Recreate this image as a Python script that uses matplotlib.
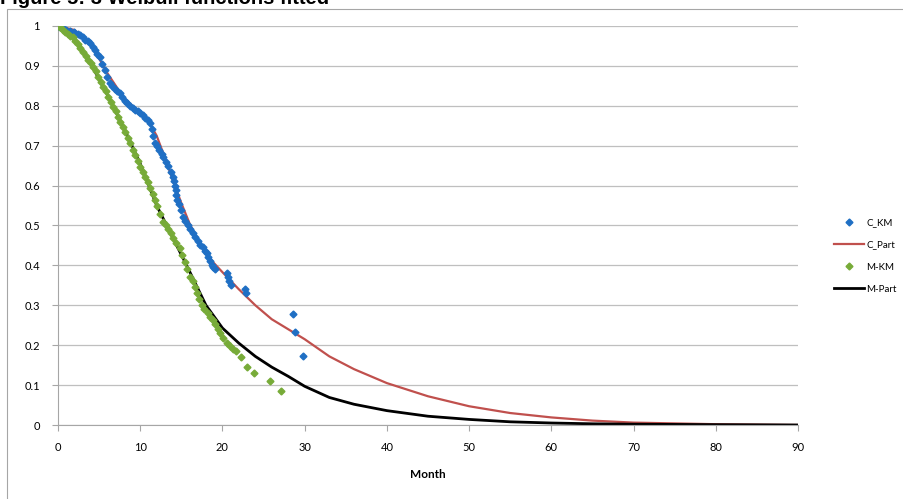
import matplotlib
matplotlib.use("Agg")
import matplotlib.pyplot as plt
from matplotlib.patches import Rectangle

# Kaplan-Meier estimates, group C
c_km_month = [0, 0.3, 0.6, 1.0, 1.5, 2.0, 2.4, 2.7, 3.0, 3.3, 3.6, 3.9, 4.2, 4.5, 4.8, 5.1,
              5.4, 5.7, 6.0, 6.3, 6.6, 6.9, 7.2, 7.5, 7.8, 8.1, 8.4, 8.8, 9.1, 9.4, 9.7,
              10.0, 10.3, 10.6, 10.9, 11.2, 11.4, 11.6, 11.8, 12.0, 12.3, 12.6, 12.8, 13.1,
              13.4, 13.7, 14.0, 14.1, 14.2, 14.3, 14.4, 14.5, 14.7, 14.9, 15.2, 15.5, 15.8,
              16.1, 16.4, 16.7, 17.0, 17.3, 17.6, 17.9, 18.1, 18.3, 18.5, 18.7, 18.9, 19.1,
              20.6, 20.7, 20.8, 21.0, 22.7, 22.9, 28.6, 28.8, 29.8]
c_km_surv = [1.0, 0.997, 0.995, 0.99, 0.988, 0.985, 0.98, 0.977, 0.972, 0.966, 0.962, 0.957,
             0.948, 0.94, 0.93, 0.923, 0.905, 0.89, 0.872, 0.857, 0.85, 0.843, 0.838, 0.832,
             0.822, 0.813, 0.806, 0.8, 0.795, 0.79, 0.786, 0.782, 0.776, 0.77, 0.764, 0.757,
             0.742, 0.725, 0.707, 0.7, 0.69, 0.68, 0.672, 0.66, 0.648, 0.635, 0.622, 0.612,
             0.6, 0.588, 0.576, 0.565, 0.555, 0.54, 0.522, 0.512, 0.502, 0.49, 0.48, 0.47,
             0.462, 0.452, 0.445, 0.437, 0.431, 0.42, 0.41, 0.4, 0.395, 0.39, 0.38, 0.37,
             0.36, 0.35, 0.34, 0.33, 0.278, 0.232, 0.174]

# fitted curve, group C
c_part_month = [0, 2, 4, 6, 8, 10, 11, 12, 13, 14, 15, 16, 17, 18, 19, 20, 22, 24, 26, 28,
                30, 33, 36, 40, 45, 50, 55, 60, 65, 70, 75, 80, 85, 90]
c_part_surv = [1.0, 0.99, 0.955, 0.882, 0.82, 0.782, 0.762, 0.725, 0.67, 0.612, 0.556, 0.505,
               0.465, 0.43, 0.405, 0.383, 0.34, 0.3, 0.265, 0.24, 0.215, 0.172, 0.14, 0.105,
               0.072, 0.047, 0.03, 0.019, 0.011, 0.006, 0.004, 0.002, 0.001, 0.0]

# Kaplan-Meier estimates, group M
m_km_month = [0, 0.3, 0.6, 0.9, 1.2, 1.5, 1.8, 2.1, 2.4, 2.7, 3.1, 3.4, 3.7, 4.0, 4.3, 4.6,
              4.9, 5.2, 5.5, 5.8, 6.1, 6.4, 6.7, 7.0, 7.3, 7.6, 7.9, 8.2, 8.5, 8.8, 9.1, 9.4,
              9.7, 10.0, 10.3, 10.6, 10.9, 11.2, 11.5, 11.8, 12.1, 12.4, 12.8, 13.1, 13.4,
              13.7, 14.0, 14.4, 14.8, 15.1, 15.4, 15.7, 16.1, 16.4, 16.7, 16.9, 17.2, 17.5,
              17.8, 18.2, 18.5, 18.8, 19.1, 19.4, 19.7, 20.1, 20.5, 20.9, 21.3, 21.7, 22.3,
              23.0, 23.8, 25.8, 27.1]
m_km_surv = [1.0, 0.997, 0.99, 0.985, 0.98, 0.976, 0.973, 0.963, 0.955, 0.946, 0.936, 0.926,
             0.916, 0.907, 0.898, 0.886, 0.873, 0.86, 0.848, 0.836, 0.823, 0.81, 0.798, 0.786,
             0.773, 0.76, 0.748, 0.735, 0.72, 0.708, 0.69, 0.676, 0.662, 0.647, 0.635, 0.622,
             0.61, 0.593, 0.58, 0.565, 0.55, 0.528, 0.51, 0.5, 0.49, 0.48, 0.468, 0.455,
             0.443, 0.425, 0.408, 0.39, 0.372, 0.36, 0.345, 0.332, 0.315, 0.3, 0.29, 0.28,
             0.271, 0.262, 0.252, 0.24, 0.23, 0.218, 0.205, 0.198, 0.19, 0.185, 0.171, 0.146,
             0.131, 0.111, 0.086]

# fitted curve, group M
m_part_month = [0, 2, 4, 6, 8, 10, 12, 14, 16, 18, 20, 22, 24, 26, 28, 30, 33, 36, 40, 45,
                50, 55, 60, 65, 70, 80, 90]
m_part_surv = [1.0, 0.97, 0.905, 0.828, 0.745, 0.655, 0.55, 0.468, 0.385, 0.3, 0.243, 0.205,
               0.172, 0.145, 0.122, 0.097, 0.069, 0.052, 0.036, 0.022, 0.014, 0.008, 0.005,
               0.003, 0.002, 0.0008, 0.0]

x_ticks = list(range(0, 91, 10))
y_ticks = [0, 0.1, 0.2, 0.3, 0.4, 0.5, 0.6, 0.7, 0.8, 0.9, 1]
y_labels = ["0", "0.1", "0.2", "0.3", "0.4", "0.5", "0.6", "0.7", "0.8", "0.9", "1"]

plt.rcParams['font.family'] = ['Lato', 'DejaVu Sans']

fig = plt.figure(figsize=(9.04, 4.99), dpi=100)
# chart frame, runs off the right and bottom edges like the original crop
fig.patches.append(Rectangle((7 / 904, -0.1), 1.2, 1.1 - 9 / 499, transform=fig.transFigure,
                             fill=False, edgecolor="#a6a6a6", linewidth=0.8))
fig.text(0.0, 1 - 4 / 499, "Figure 5: 3 Weibull functions fitted", fontsize=14.5,
         fontweight="bold", family="Liberation Sans", va="baseline", ha="left")

ax = fig.add_axes([58 / 904, 1 - 425 / 499, (798 - 58) / 904, (425 - 26) / 499])

ax.plot(c_part_month, c_part_surv, color="#c0504d", lw=1.6, zorder=2, label="C_Part")
ax.plot(m_part_month, m_part_surv, color="black", lw=2.0, zorder=2, label="M-Part")
ax.plot(c_km_month, c_km_surv, ls="none", marker="D", ms=3.5, color="#1f6fc4",
        mec="#1f6fc4", zorder=3, label="C_KM")
ax.plot(m_km_month, m_km_surv, ls="none", marker="D", ms=3.5, color="#77ab38",
        mec="#77ab38", zorder=3, label="M-KM")

ax.set_xlim(0, 90)
ax.set_ylim(0, 1)
ax.set_xticks(x_ticks)
ax.set_yticks(y_ticks)
ax.set_yticklabels(y_labels)
ax.yaxis.grid(True, color="#bfbfbf", lw=0.9)
ax.set_axisbelow(True)
for s in ["top", "right"]:
    ax.spines[s].set_visible(False)
ax.spines["left"].set_color("#a6a6a6")
ax.spines["bottom"].set_color("#a6a6a6")
ax.tick_params(axis="x", length=4, color="#a6a6a6", labelsize=8, pad=8)
ax.tick_params(axis="y", length=4, color="#a6a6a6", labelsize=8, pad=9)
ax.set_xlabel("Month", fontsize=8.5, fontweight="bold", labelpad=12)

h, l = ax.get_legend_handles_labels()
order = [2, 0, 3, 1]
fig.legend([h[i] for i in order], [l[i] for i in order], loc="center left",
           bbox_to_anchor=(829 / 904, 1 - 256 / 499), frameon=False, fontsize=7,
           labelspacing=1.35, handlelength=3.1, handletextpad=0.25, borderpad=0)

fig.savefig("out.png", dpi=100)
